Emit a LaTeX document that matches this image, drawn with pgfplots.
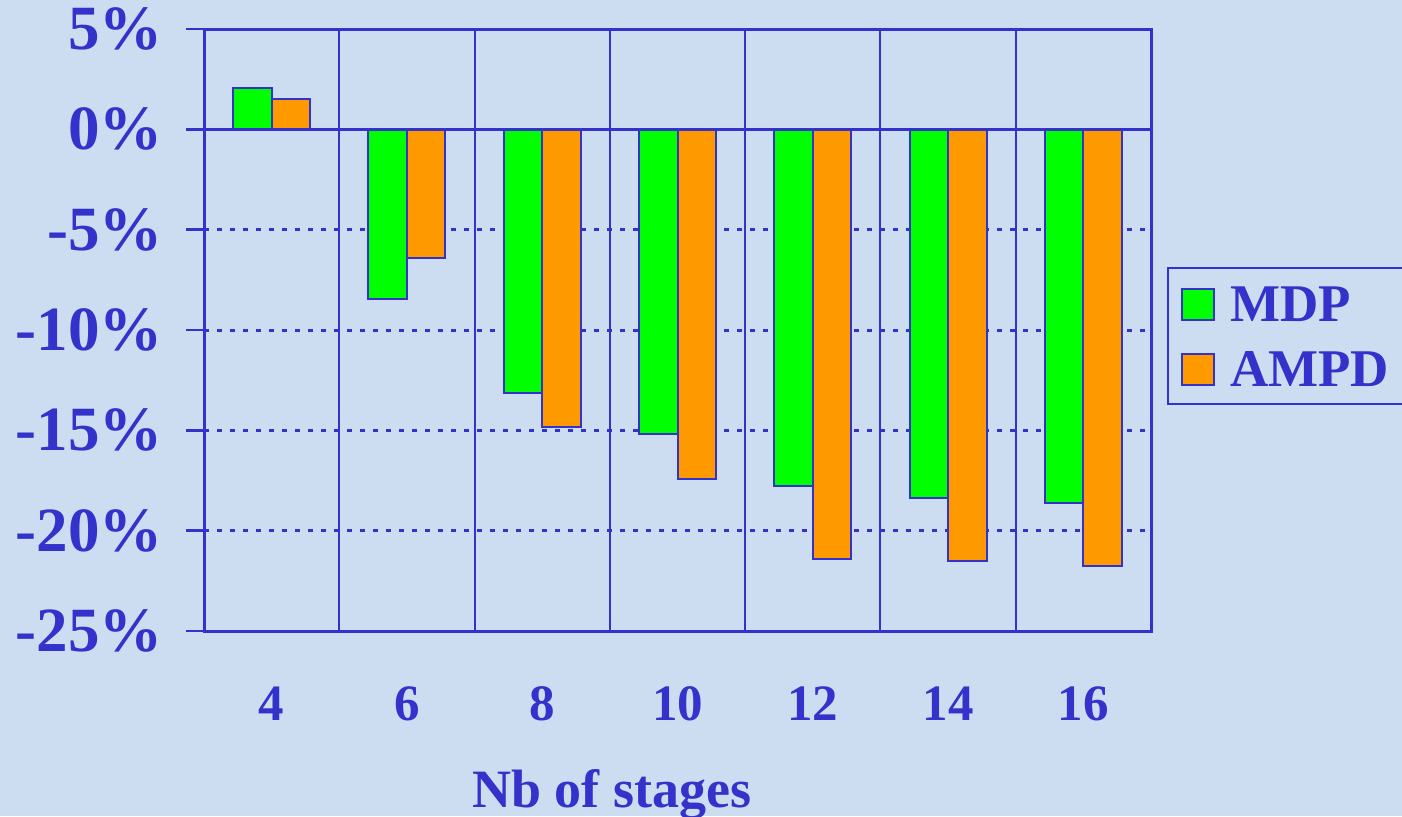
\documentclass[border=0pt]{standalone}
\usepackage{pgfplots}
\pgfplotsset{compat=1.18}
\usepackage{fontspec}
\setmainfont{Liberation Serif}

\definecolor{bg}{RGB}{205,221,241}
\definecolor{ink}{RGB}{51,51,204}
\definecolor{mdp}{RGB}{0,255,0}
\definecolor{ampd}{RGB}{255,153,0}

\begin{document}
\begin{tikzpicture}
\fill[bg] (0,0) rectangle (701pt,408pt);

\begin{axis}[
    at={(102pt,92.5pt)}, anchor=south west,
    scale only axis,
    width=473.5pt, height=301pt,
    ybar=0pt, bar width=19.25pt,
    xmin=-0.5, xmax=6.5,
    ymin=-25, ymax=5,
    xtick={0,...,6},
    xticklabels={4,6,8,10,12,14,16},
    minor xtick={0.5,1.5,...,5.5},
    ytick={-25,-20,...,5},
    yticklabels={-25\%,-20\%,-15\%,-10\%,-5\%,0\%,5\%},
    ytick pos=left,
    tick align=outside,
    major tick length=9pt,
    major x tick style={draw=none},
    minor x tick style={draw=none},
    y tick style={ink, line width=1.2pt},
    axis line style={ink, line width=1.5pt},
    ymajorgrids, xminorgrids,
    major grid style={ink, line width=1.5pt, dash pattern=on 2.5pt off 4pt},
    minor grid style={ink, line width=1pt, solid},
    ticklabel style={text=ink, font=\bfseries},
    yticklabel style={font=\fontsize{31.5}{36}\selectfont\bfseries, xshift=-8pt},
    xticklabel style={font=\fontsize{25.5}{30}\selectfont\bfseries, yshift=-15.5pt},
    xlabel={Nb of stages},
    xlabel style={at={(axis description cs:0.4308,-0.2924)}, anchor=base,
        text=ink, font=\fontsize{27}{32}\selectfont\bfseries},
    legend style={at={(axis description cs:1.0169,0.6047)}, anchor=north west,
        draw=ink, line width=1pt, fill=bg, text=ink,
        font=\fontsize{26.5}{31}\selectfont\bfseries,
        inner xsep=6pt, inner ysep=5pt, row sep=7pt},
    legend cell align=left,
    legend image code/.code={
        \draw[#1, line width=1pt] (1pt,-7pt) rectangle (17pt,8.5pt);
        \path[draw=none, fill=none] (0pt,14pt) rectangle (23pt,-7.5pt);},
]
\addplot[fill=mdp, draw=ink, line width=1pt] coordinates {
    (0,2.04) (1,-8.47) (2,-13.16) (3,-15.2) (4,-17.79) (5,-18.39) (6,-18.64)};
\addlegendentry{MDP}
\addplot[fill=ampd, draw=ink, line width=1pt] coordinates {
    (0,1.5) (1,-6.43) (2,-14.85) (3,-17.44) (4,-21.43) (5,-21.53) (6,-21.78)};
\addlegendentry{AMPD}
\draw[ink, line width=1.5pt] (axis cs:-0.5,0) -- (axis cs:6.5,0);
\end{axis}

\pgfresetboundingbox
\path (0,0) rectangle (701pt,408pt);
\end{tikzpicture}
\end{document}
